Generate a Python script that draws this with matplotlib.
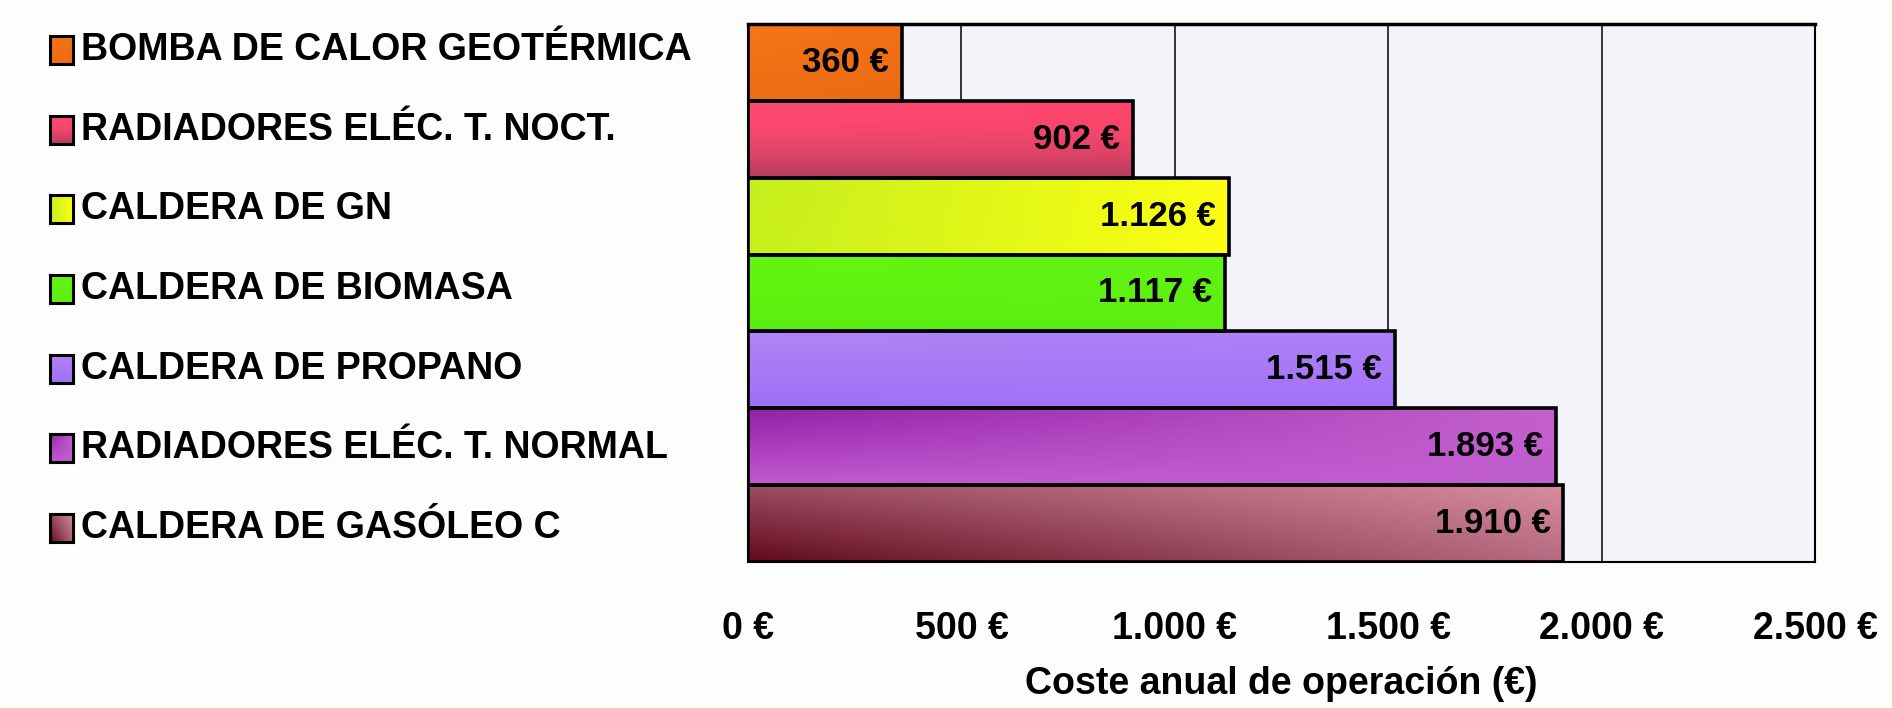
import numpy as np
import matplotlib
matplotlib.use("Agg")
import matplotlib.pyplot as plt
import matplotlib.colors as mcolors

categories = [
    "BOMBA DE CALOR GEOTÉRMICA",
    "RADIADORES ELÉC. T. NOCT.",
    "CALDERA DE GN",
    "CALDERA DE BIOMASA",
    "CALDERA DE PROPANO",
    "RADIADORES ELÉC. T. NORMAL",
    "CALDERA DE GASÓLEO C",
]
costs = [360, 902, 1126, 1117, 1515, 1893, 1910]
x_ticks = [0, 500, 1000, 1500, 2000, 2500]

# corner colours (top-left, top-right, bottom-left, bottom-right) + vertical gamma
fills = [
    ("#f5761a", "#f27016", "#ee6c14", "#ec6a12", 1.0),
    ("#ff4a72", "#ff466c", "#b03c5c", "#b23e5e", 2.2),
    ("#c6ee1e", "#fcff12", "#c8f01c", "#fcff14", 1.0),
    ("#64f612", "#60f414", "#5cee10", "#5eee12", 1.0),
    ("#b084f4", "#ae80f6", "#a06ef8", "#a472f8", 1.0),
    ("#9220a8", "#c460cc", "#c25ad0", "#c05ed0", 1.0),
    ("#9c4c64", "#d88ca0", "#620a1e", "#b46a80", 1.0),
]

BOLD = ["Liberation Sans", "DejaVu Sans"]


def gradient(tl, tr, bl, br, gamma=1.0, n=64):
    c = [np.array(mcolors.to_rgb(k)) for k in (tl, tr, bl, br)]
    u = np.linspace(0, 1, n)[None, :, None]
    v = (np.linspace(0, 1, n) ** gamma)[:, None, None]
    top = c[0] * (1 - u) + c[1] * u
    bot = c[2] * (1 - u) + c[3] * u
    return top * (1 - v) + bot * v


W, H = 1892, 708
fig = plt.figure(figsize=(W / 100, H / 100), dpi=100, facecolor="#fdfdfb")
ax = fig.add_axes([748 / W, 1 - 562 / H, (1815 - 748) / W, (562 - 24) / H])
ax.set_facecolor("#f3f4fa")

ypos = np.arange(len(categories))
bars = ax.barh(ypos, costs, height=1.0, facecolor="none",
               edgecolor="black", linewidth=2.6, zorder=3)

for patch, f, val in zip(bars, fills, costs):
    x0, y0 = patch.get_x(), patch.get_y()
    w, h = patch.get_width(), patch.get_height()
    im = ax.imshow(gradient(*f), extent=(x0, x0 + w, y0 + h, y0),
                   origin="upper", aspect="auto", zorder=2,
                   interpolation="bilinear")
    im.set_clip_path(patch)
    lbl = f"{val:,}".replace(",", ".") + " €"
    ax.annotate(lbl, (val, patch.get_y() + h / 2), xytext=(-9, 0),
                textcoords="offset points", ha="right", va="center",
                fontsize=25, fontweight="bold", family=BOLD, zorder=4)

ax.set_xlim(0, 2500)
ax.set_ylim(len(categories) - 0.5, -0.5)
ax.set_xticks(x_ticks)
ax.set_xticklabels([f"{t:,}".replace(",", ".") + " €" for t in x_ticks],
                   fontsize=27, fontweight="bold", family=BOLD)
ax.set_yticks([])
ax.tick_params(axis="x", length=0, pad=35)
ax.grid(axis="x", color="black", linewidth=1.1)
ax.set_axisbelow(True)
for s in ax.spines.values():
    s.set_linewidth(1.5)
ax.spines["top"].set_linewidth(2.5)
ax.set_xlabel("Coste anual de operación (€)", fontsize=27, fontweight="bold",
              family=BOLD, labelpad=14)

# legend-style category list on the left
label_y = np.linspace(50, 528, len(categories))
for name, f, yy in zip(categories, fills, label_y):
    sq = fig.add_axes([50 / W, 1 - (yy + 14) / H, 23 / W, 28 / H])
    sq.imshow(gradient(*f), aspect="auto", interpolation="bilinear")
    sq.set_xticks([])
    sq.set_yticks([])
    for s in sq.spines.values():
        s.set_linewidth(2.2)
    fig.text(81 / W, 1 - yy / H, name, fontsize=27, fontweight="bold",
             family=BOLD, va="center", ha="left")

fig.savefig("out.png", dpi=100, facecolor=fig.get_facecolor())
